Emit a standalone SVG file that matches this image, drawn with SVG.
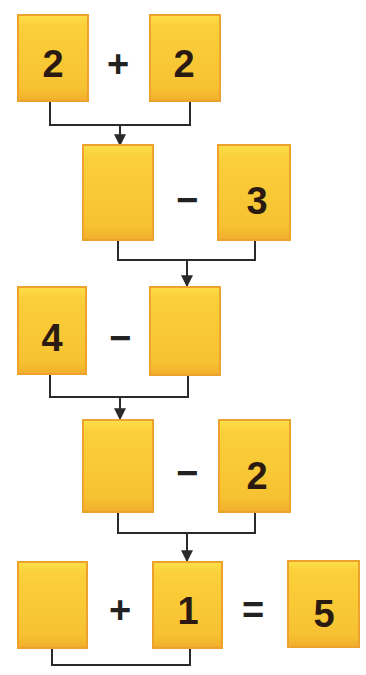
<svg xmlns="http://www.w3.org/2000/svg" width="366" height="675" viewBox="0 0 366 675">
<defs>
<linearGradient id="g" x1="0" y1="0" x2="0" y2="1">
<stop offset="0" stop-color="#fde04a"/>
<stop offset="0.12" stop-color="#fbd03a"/>
<stop offset="0.85" stop-color="#f7c232"/>
<stop offset="1" stop-color="#f1ae2c"/>
</linearGradient>
<marker id="ah" viewBox="0 0 10 10" refX="9" refY="5" markerWidth="6" markerHeight="6" orient="auto" markerUnits="strokeWidth">
<path d="M0,0 L10,5 L0,10 z" fill="#2a2a2a"/>
</marker>
</defs>
<style>
.box{fill:url(#g);stroke:#eea22e;stroke-width:2}
.d{font-family:"Liberation Sans",Arial,sans-serif;font-weight:bold;font-size:38px;fill:#2b1a12;text-anchor:middle}
.op{font-family:"Liberation Sans",Arial,sans-serif;font-weight:bold;font-size:38px;fill:#222;text-anchor:middle}
.c{fill:none;stroke:#2a2a2a;stroke-width:2}
</style>
<rect width="366" height="675" fill="#ffffff"/>
<g id="connectors">
<path class="c" d="M50,101 V125 H190 V101"/>
<path class="c" d="M120,125 V145" marker-end="url(#ah)"/>
<path class="c" d="M118,240 V260 H255 V240"/>
<path class="c" d="M187,260 V286" marker-end="url(#ah)"/>
<path class="c" d="M50,374 V397 H188 V375"/>
<path class="c" d="M120,397 V419" marker-end="url(#ah)"/>
<path class="c" d="M118,512 V533 H255 V512"/>
<path class="c" d="M187,533 V561" marker-end="url(#ah)"/>
<path class="c" d="M52,648 V665 H190 V648"/>
</g>
<g id="b1"><rect class="box" x="18" y="15" width="70" height="86"/><text class="d" x="53" y="77">2</text></g>
<g id="op1"><text class="op" x="118" y="77">+</text></g>
<g id="b2"><rect class="box" x="150" y="15" width="70" height="86"/><text class="d" x="184" y="77">2</text></g>
<g id="b3"><rect class="box" x="83" y="145" width="70" height="95"/></g>
<g id="op2"><text class="op" x="187" y="213">−</text></g>
<g id="b4"><rect class="box" x="218" y="145" width="72" height="95"/><text class="d" x="257" y="214">3</text></g>
<g id="b5"><rect class="box" x="18" y="287" width="68" height="87"/><text class="d" x="52" y="351">4</text></g>
<g id="op3"><text class="op" x="120" y="351">−</text></g>
<g id="b6"><rect class="box" x="150" y="287" width="70" height="88"/></g>
<g id="b7"><rect class="box" x="83" y="420" width="70" height="92"/></g>
<g id="op4"><text class="op" x="187" y="486">−</text></g>
<g id="b8"><rect class="box" x="219" y="420" width="71" height="92"/><text class="d" x="257" y="489">2</text></g>
<g id="b9"><rect class="box" x="18" y="562" width="69" height="86"/></g>
<g id="op5"><text class="op" x="120" y="623">+</text></g>
<g id="b10"><rect class="box" x="153" y="562" width="69" height="86"/><text class="d" x="188" y="624">1</text></g>
<g id="op6"><text class="op" x="253" y="623">=</text></g>
<g id="b11"><rect class="box" x="288" y="561" width="71" height="86"/><text class="d" x="324" y="627">5</text></g>
</svg>
